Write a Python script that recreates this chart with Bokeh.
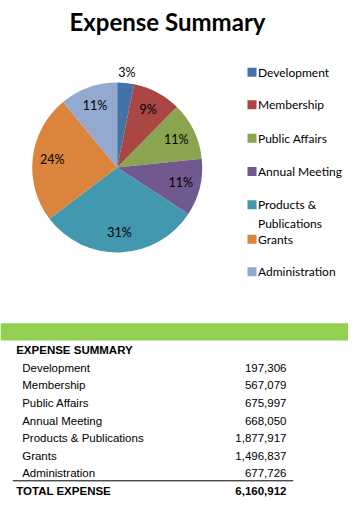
import math
from bokeh.plotting import figure
from bokeh.models import Range1d, ColumnDataSource
from bokeh.core.properties import value
from bokeh.embed import file_html
from bokeh.resources import INLINE

# ---- data ----
categories = ["Development", "Membership", "Public Affairs", "Annual Meeting",
              "Products & Publications", "Grants", "Administration"]
legend_labels = ["Development", "Membership", "Public Affairs", "Annual Meeting",
                 "Products &\nPublications", "Grants", "Administration"]
amounts = [197306, 567079, 675997, 668050, 1877917, 1496837, 677726]
colors = ["#4572A7", "#AA4643", "#89A54E", "#71588F", "#4198AF", "#DB843D", "#93A9CF"]
title_text = "Expense Summary"
table_title = "EXPENSE SUMMARY"
total_label = "TOTAL EXPENSE"

total = sum(amounts)

# percentages that sum to 100 (largest remainder, as the chart shows)
raw = [a * 100 / total for a in amounts]
pcts = [int(math.floor(r)) for r in raw]
order = sorted(range(len(raw)), key=lambda i: raw[i] - pcts[i], reverse=True)
for i in order[:100 - sum(pcts)]:
    pcts[i] += 1

W, H = 348, 505
p = figure(width=W, height=H, output_backend="svg", toolbar_location=None,
           x_range=Range1d(0, W), y_range=Range1d(521 - H, 521),
           min_border=0, outline_line_color=None)
p.axis.visible = False
p.grid.visible = False
p.background_fill_color = "white"

def Y(y_img):
    return 521 - y_img

# title
p.text(x=[167], y=[Y(21)], text=[title_text], text_font=value("Lato"),
       text_font_size="24px", text_font_style="bold", text_align="center",
       text_baseline="middle", text_color="black")

# pie
cx, cy, R = 116.7, Y(167), 85
fracs = [a / total for a in amounts]
starts, ends, lx, ly = [], [], [], []
cum = 0.0
for f in fracs:
    s = math.pi / 2 - 2 * math.pi * cum
    e = math.pi / 2 - 2 * math.pi * (cum + f)
    starts.append(s)
    ends.append(e)
    mid = (s + e) / 2
    rf = 1.12 if f < 0.05 else 0.77
    lx.append(cx + R * rf * math.cos(mid))
    ly.append(cy + R * rf * math.sin(mid))
    cum += f
labels = [f"{v}%" for v in pcts]

src = ColumnDataSource(dict(start=starts, end=ends, color=colors))
p.wedge(x=cx, y=cy, radius=R, start_angle="start", end_angle="end",
        direction="clock", fill_color="color", line_color=None, source=src)
p.text(x=lx, y=ly, text=labels, text_font=value("Lato"), text_font_size="12.5px",
       text_align="center", text_baseline="middle", text_color="black")

# legend
leg_y_img = [71.7, 104.3, 137.7, 171, 204.3, 238.7, 271.3]
leg_ys = [Y(v) for v in leg_y_img]
p.rect(x=[251.5] * len(colors), y=leg_ys, width=9, height=9,
       fill_color=colors, line_color=None)
tx, ty, tt = [], [], []
for lab, yy in zip(legend_labels, leg_ys):
    for k, line in enumerate(lab.split("\n")):
        tx.append(257.5)
        ty.append(yy - k * 18.4)
        tt.append(line)
p.text(x=tx, y=ty, text=tt, text_font=value("Lato"),
       text_font_size="12px", text_align="left", text_baseline="middle",
       text_color="black")

# green bar
p.quad(left=[0], right=[364], top=[Y(322.7)], bottom=[Y(340)],
       fill_color="#92D050", line_color=None)

# table
font_t = value("Liberation Sans")
fs = "11.5px"
p.text(x=[15.7], y=[Y(349)], text=[table_title], text_font=font_t,
       text_font_size=fs, text_font_style="bold", text_baseline="middle",
       text_color="black")
row_y_img = [367, 384.3, 402, 420, 437, 455, 472]
row_ys = [Y(v) for v in row_y_img]
p.text(x=[21.7] * len(categories), y=row_ys, text=categories, text_font=font_t,
       text_font_size=fs, text_baseline="middle", text_color="black")
p.text(x=[286] * len(amounts), y=row_ys, text=[f"{a:,}" for a in amounts],
       text_font=font_t, text_font_size=fs, text_baseline="middle",
       text_align="right", text_color="black")
p.segment(x0=[12.3], x1=[292.7], y0=[Y(480.3)], y1=[Y(480.3)],
          line_color="black", line_width=1)
p.text(x=[15.7], y=[Y(490)], text=[total_label], text_font=font_t,
       text_font_size=fs, text_font_style="bold", text_baseline="middle",
       text_color="black")
p.text(x=[286], y=[Y(490)], text=[f"{total:,}"], text_font=font_t,
       text_font_size=fs, text_font_style="bold", text_baseline="middle",
       text_align="right", text_color="black")

open("out.html", "w").write(file_html(p, INLINE))
